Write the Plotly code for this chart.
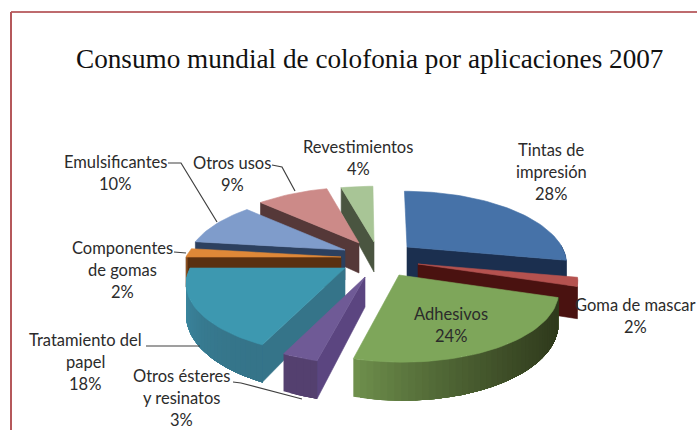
import math
import plotly.graph_objects as go

# ---- data ----
categories = ["Tintas de impresión", "Goma de mascar", "Adhesivos", "Otros ésteres y resinatos",
              "Tratamiento del papel", "Componentes de gomas", "Emulsificantes", "Otros usos", "Revestimientos"]
values = [28, 2, 24, 3, 18, 2, 10, 9, 4]
title_text = "Consumo mundial de colofonia por aplicaciones 2007"

# ---- styles / geometry (pixels) ----
label_lines = [["Tintas de", "impresión"], ["Goma de mascar"], ["Adhesivos"], ["Otros ésteres", "y resinatos"],
               ["Tratamiento del", "papel"], ["Componentes", "de gomas"], ["Emulsificantes"], ["Otros usos"], ["Revestimientos"]]
label_pos = [(551, 150), (635, 305), (451, 314), (181, 376), (85, 340), (122, 248), (115, 162), (232, 163), (358, 147)]
apex = [(407, 247), (418, 264), (399, 275), (365, 277), (345, 268), (341, 257), (345, 250), (359, 243), (374, 242)]
top_col = ["#4672A8", "#B5524F", "#7EA65A", "#6F5A96", "#3D98B0", "#DF8838", "#7F9CCB", "#CC8A88", "#A8C596"]
wall_col = ["#1B2F4F", "#4A1210", "#3A4A24", "#5B4580", "#357489", "#5A3010", "#2C405F", "#553838", "#4A5540"]
arc_from = ["#1B2F4F", "#4A1210", "#2F3A1C", "#54406F", "#357489", "#8A5020", "#2C405F", "#553838", "#4A5540"]
arc_to = ["#1B2F4F", "#4A1210", "#6E8F4C", "#54406F", "#3F92AC", "#8A5020", "#2C405F", "#553838", "#4A5540"]
wall_side = ["end", "end", None, "start", "start", "start", "start", "start", "start"]
draw_order = [8, 7, 6, 5, 0, 1, 2, 4, 3]
leaders = [[(168, 163), (181, 163), (217, 222)], [(272, 165), (282, 167), (295, 191)],
           [(174, 252), (186, 253)], [(146, 346), (200, 346)], [(233, 382), (241, 383), (302, 399)]]
RX, RY, K, DEPTH, CX, SKEW = 155, 68, 0.22, 30, 350, 0.25
SHADE_GAMMA = 1.8


def proj(i, deg, z=0.0, radial=1.0):
    t = math.radians(deg)
    u, v = radial * math.sin(t), radial * math.cos(t)
    s = 1 / (1 + K * v)
    ax, ay = apex[i]
    return (ax + RX * u * s + (ax - CX) * (s - 1) * SKEW, ay - RY * v * s + z * DEPTH * s)


def mix(a, b, f):
    pa = [int(a[j:j + 2], 16) for j in (1, 3, 5)]
    pb = [int(b[j:j + 2], 16) for j in (1, 3, 5)]
    return "#%02x%02x%02x" % tuple(round(p + (q - p) * f) for p, q in zip(pa, pb))


fig = go.Figure()


def poly(pts, color, width=0.6):
    xs = [p[0] for p in pts] + [pts[0][0]]
    ys = [p[1] for p in pts] + [pts[0][1]]
    fig.add_trace(go.Scatter(x=xs, y=ys, mode="lines", fill="toself", fillcolor=color,
                             line=dict(color=color, width=width), hoverinfo="skip", showlegend=False))


starts = []
acc = 0
for val in values:
    starts.append(acc / sum(values) * 360)
    acc += val

for i in draw_order:
    a0 = starts[i]
    a1 = a0 + values[i] / sum(values) * 360
    n = max(3, int((a1 - a0) / 2))
    arc = [a0 + (a1 - a0) * j / n for j in range(n + 1)]
    # radial wall
    if wall_side[i]:
        e = a0 if wall_side[i] == "start" else a1
        poly([proj(i, e, 0, 0), proj(i, e, 0), proj(i, e, 1), proj(i, e, 1, 0)], wall_col[i])
    # outer curved wall: one growing band per shade, painted from far end so that bands overlap without seams
    wall_angles = [a for a in arc if math.cos(math.radians(a)) < 0.05]
    for j in range(len(wall_angles) - 1, 0, -1):
        part = wall_angles[:j + 1]
        f = (j - 1) / max(1, len(wall_angles) - 2)
        poly([proj(i, a) for a in part] + [proj(i, a, 1) for a in reversed(part)],
             mix(arc_from[i], arc_to[i], f ** SHADE_GAMMA), width=0)
    # top face
    poly([proj(i, 0, 0, 0)] + [proj(i, a) for a in arc], top_col[i])

for seg in leaders:
    fig.add_trace(go.Scatter(x=[p[0] for p in seg], y=[p[1] for p in seg], mode="lines",
                             line=dict(color="#404040", width=1.2), hoverinfo="skip", showlegend=False))

LABEL_FONT = dict(family="Lato, Carlito, sans-serif", size=16.5, color="#2b2b2b")
for lines, (lx, ly), val in zip(label_lines, label_pos, values):
    for k, line in enumerate(lines + [f"{val}%"]):
        fig.add_annotation(x=lx, y=ly + k * 21.8, text=line, showarrow=False, font=LABEL_FONT,
                           xanchor="center", yanchor="middle")

fig.add_annotation(x=369, y=59, text=title_text, showarrow=False, xanchor="center", yanchor="middle",
                   font=dict(family="Liberation Serif, serif", size=27.2, color="#111111"))

fig.update_layout(
    width=697, height=430, margin=dict(l=0, r=0, t=0, b=0), paper_bgcolor="white", plot_bgcolor="white",
    xaxis=dict(range=[0, 697], visible=False, fixedrange=True),
    yaxis=dict(range=[430, 0], visible=False, fixedrange=True),
    showlegend=False,
    shapes=[dict(type="line", xref="x", yref="y", x0=11, y0=12, x1=697, y1=12, line=dict(color="#A93A3E", width=1.6)),
            dict(type="line", xref="x", yref="y", x0=11, y0=12, x1=11, y1=430, line=dict(color="#B5585B", width=2))],
)
fig.write_html("out.html", config=dict(displayModeBar=False),
               post_script="document.body.style.margin='0';document.body.style.overflow='hidden';")
